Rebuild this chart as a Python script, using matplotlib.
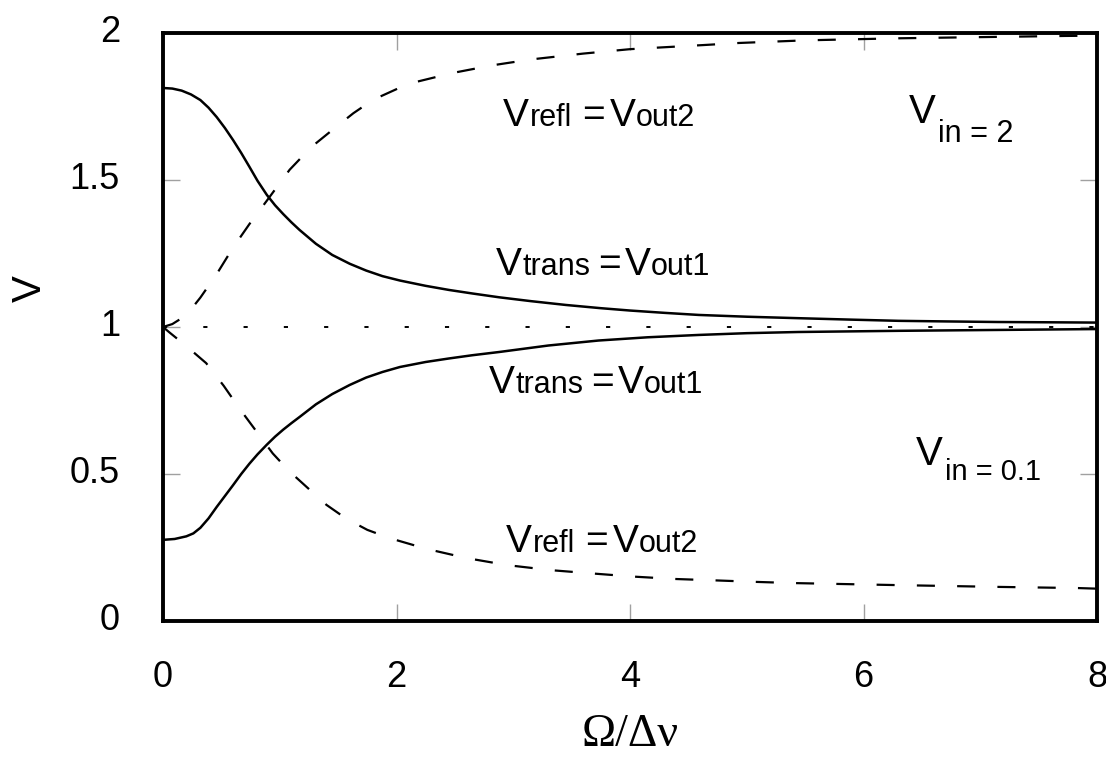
import matplotlib
matplotlib.use("Agg")
import matplotlib.pyplot as plt
from matplotlib.transforms import ScaledTranslation

# ---------------- data ----------------
# V_in = 2, transmitted (solid, upper)
x_trans_hi = [0.0, 0.08, 0.16, 0.24, 0.32, 0.39, 0.46, 0.53, 0.60, 0.67, 0.74, 0.81, 0.89, 0.96, 1.03, 1.10, 1.17, 1.31, 1.45, 1.60, 1.74, 1.88, 2.03, 2.25, 2.45, 2.65, 2.88, 3.15, 3.45, 3.75, 4.0, 4.3, 4.59, 5.0, 5.44, 5.9, 6.3, 6.7, 7.15, 7.6, 8.0]
v_trans_hi = [1.813, 1.811, 1.804, 1.791, 1.772, 1.746, 1.714, 1.677, 1.636, 1.592, 1.545, 1.497, 1.449, 1.414, 1.384, 1.356, 1.330, 1.283, 1.245, 1.215, 1.192, 1.173, 1.158, 1.140, 1.126, 1.114, 1.101, 1.088, 1.075, 1.064, 1.056, 1.048, 1.041, 1.035, 1.030, 1.025, 1.021, 1.019, 1.017, 1.016, 1.015]

# V_in = 2, reflected (dashed, upper)
x_refl_hi = [0.0, 0.08, 0.16, 0.24, 0.32, 0.46, 0.60, 0.74, 0.89, 1.085, 1.27, 1.45, 1.63, 1.80, 2.10, 2.48, 2.82, 3.15, 3.6, 4.0, 4.63, 4.93, 5.5, 6.3, 7.0, 7.73, 8.0]
v_refl_hi = [1.0, 1.01, 1.03, 1.06, 1.10, 1.18, 1.27, 1.35, 1.43, 1.535, 1.612, 1.67, 1.727, 1.773, 1.827, 1.864, 1.89, 1.91, 1.93, 1.945, 1.959, 1.966, 1.975, 1.982, 1.986, 1.99, 1.991]

# V_in = 0.1, transmitted (solid, lower)
x_trans_lo = [0.0, 0.1, 0.2, 0.26, 0.32, 0.39, 0.46, 0.53, 0.60, 0.67, 0.74, 0.81, 0.89, 0.96, 1.03, 1.10, 1.17, 1.31, 1.45, 1.60, 1.74, 1.88, 2.03, 2.25, 2.45, 2.65, 2.88, 3.3, 3.73, 4.15, 4.59, 5.0, 5.44, 6.3, 7.15, 8.0]
v_trans_lo = [0.276, 0.279, 0.288, 0.298, 0.317, 0.349, 0.388, 0.425, 0.462, 0.500, 0.535, 0.567, 0.600, 0.627, 0.651, 0.673, 0.694, 0.737, 0.772, 0.803, 0.828, 0.847, 0.864, 0.881, 0.893, 0.904, 0.915, 0.937, 0.954, 0.965, 0.973, 0.979, 0.983, 0.987, 0.990, 0.993]

# V_in = 0.1, reflected (dashed, lower)
x_refl_lo = [0.0, 0.06, 0.20, 0.37, 0.52, 0.66, 0.80, 0.94, 1.08, 1.23, 1.40, 1.57, 1.75, 1.94, 2.26, 2.6, 2.95, 3.32, 3.7, 4.03, 4.38, 4.74, 5.08, 5.4, 6.3, 7.15, 7.84, 8.0]
v_refl_lo = [1.0, 0.98, 0.935, 0.877, 0.80, 0.72, 0.645, 0.57, 0.51, 0.456, 0.395, 0.348, 0.31, 0.282, 0.245, 0.214, 0.19, 0.173, 0.161, 0.151, 0.143, 0.138, 0.133, 0.129, 0.122, 0.116, 0.112, 0.110]

# reference level
x_ref = [0.0, 8.0]
v_ref = [1.0, 1.0]

x_ticks = [0, 2, 4, 6, 8]
x_ticklabels = ["0", "2", "4", "6", "8"]
y_ticks = [0, 0.5, 1, 1.5, 2]
y_ticklabels = ["0", "0.5", "1", "1.5", "2"]

SANS = "Liberation Sans"
SERIF = "Liberation Serif"
plt.rcParams["lines.scale_dashes"] = False

W, H = 1106, 757
fig = plt.figure(figsize=(W / 100, H / 100), dpi=100)
ax = fig.add_axes([163 / W, 1 - 621 / H, (1097 - 163) / W, (621 - 33) / H])

ax.plot(x_trans_hi, v_trans_hi, color="black", lw=1.8, solid_capstyle="butt")
ax.plot(x_trans_lo, v_trans_lo, color="black", lw=1.8, solid_capstyle="butt")
ax.plot(x_refl_hi, v_refl_hi, color="black", lw=1.6, dashes=(13, 16))
ax.plot(x_refl_lo, v_refl_lo, color="black", lw=1.6, dashes=(13, 16))
ax.plot(x_ref, v_ref, color="black", lw=1.4, dashes=(3, 26), dash_capstyle="butt")

ax.set_xlim(0, 8)
ax.set_ylim(0, 2)
ax.set_xticks(x_ticks)
ax.set_xticklabels(x_ticklabels, fontsize=26, family=SANS)
ax.set_yticks(y_ticks)
ax.set_yticklabels(y_ticklabels, fontsize=26, family=SANS)
ax.tick_params(axis="both", direction="in", length=12, width=1.0, color="#a0a0a0",
               top=True, right=True)
ax.tick_params(axis="x", pad=28)
ax.tick_params(axis="y", pad=31)
for sp in ax.spines.values():
    sp.set_linewidth(2.8)

off = ScaledTranslation(0, 5 / 100, fig.dpi_scale_trans)
for lab in ax.get_yticklabels():
    lab.set_transform(lab.get_transform() + off)

ax.set_xlabel("Ω/Δν", fontsize=33, family=SERIF)
ax.xaxis.label.set_va("baseline")
ax.xaxis.set_label_coords(0.5, (621 - 746) / 588)
ax.set_ylabel("V", fontsize=29, family=SANS)
ax.yaxis.label.set_va("center")
ax.yaxis.label.set_ha("center")
ax.yaxis.set_label_coords((30 - 163) / 934, (621 - 289) / 588)


def chain_label(x, y, parts):
    prev = None
    for txt, size, dx, dy in parts:
        if prev is None:
            t = ax.text(x, y, txt, fontsize=size, family=SANS, ha="left", va="baseline")
        else:
            t = ax.annotate(txt, xy=(1, y), xycoords=(prev, "data"), xytext=(dx, dy),
                            textcoords="offset pixels", fontsize=size, family=SANS,
                            ha="left", va="baseline")
        prev = t


BIG, SMALL = 28, 22
refl_parts = [("V", BIG, 0, 0), ("refl", SMALL, 1, 0), ("=", BIG, 10, 0), ("V", BIG, 5, 0), ("out2", SMALL, 0, 0)]
trans_parts = [("V", BIG, 0, 0), ("trans", SMALL, 1, 0), ("=", BIG, 8, 0), ("V", BIG, 4, 0), ("out1", SMALL, 0, 0)]

chain_label(2.91, 1.684, refl_parts)
chain_label(2.85, 1.177, trans_parts)
chain_label(2.79, 0.776, trans_parts)
chain_label(2.94, 0.235, refl_parts)
chain_label(6.39, 1.694, [("V", 29, 0, 0), ("in = 2", 22, 2, -19)])
chain_label(6.45, 0.531, [("V", 29, 0, 0), ("in = 0.1", 21, 2, -15)])

fig.savefig("out.png", dpi=100)
